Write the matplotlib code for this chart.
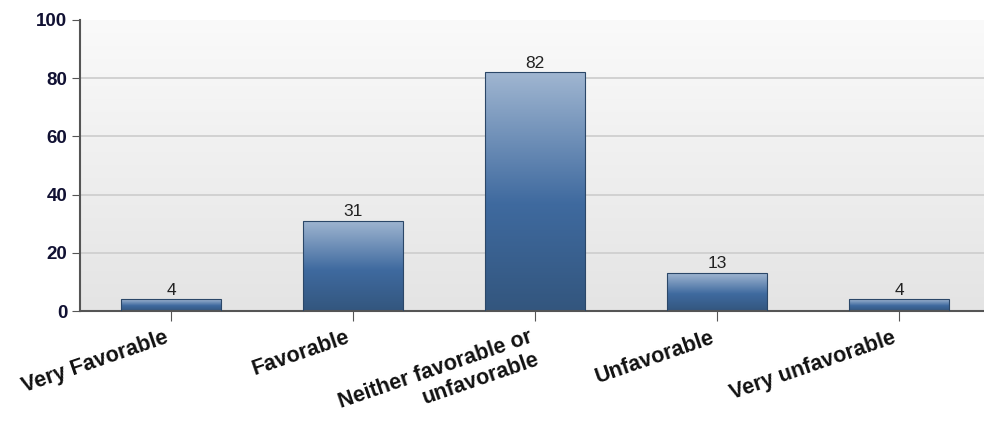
import numpy as np
import matplotlib
matplotlib.use("Agg")
import matplotlib.pyplot as plt
import matplotlib.transforms as mtransforms
from matplotlib.colors import LinearSegmentedColormap

categories = ["Very Favorable", "Favorable", "Neither favorable or\nunfavorable",
              "Unfavorable", "Very unfavorable"]
values = [4, 31, 82, 13, 4]
y_ticks = [0, 20, 40, 60, 80, 100]

font = ["Liberation Sans", "DejaVu Sans"]

fig = plt.figure(figsize=(9.84, 4.22), dpi=100)
ax = fig.add_axes([0.0813, 0.263, 0.9248, 0.6897])

n = len(categories)

# background gradient: near white at top to light gray at bottom
bg = np.linspace(0, 1, 256).reshape(-1, 1)
bg_cmap = LinearSegmentedColormap.from_list("bg", ["#e4e4e4", "#fafafa"])
ax.imshow(bg, cmap=bg_cmap, aspect="auto", origin="lower",
          extent=[-0.5, n - 0.5, 0, 100], zorder=0)

for y in y_ticks[1:-1]:
    ax.axhline(y, color="#cfcfcf", lw=1.3, zorder=1)

bar_cmap = LinearSegmentedColormap.from_list(
    "bar", [(0.0, "#33567e"), (0.45, "#3f6a9f"), (1.0, "#a0b6d1")])
grad = np.linspace(0, 1, 256).reshape(-1, 1)

x = np.arange(n)
bars = ax.bar(x, values, width=0.545, color="none", edgecolor="#2b4768",
              lw=0.8, zorder=3)
for b, v in zip(bars, values):
    x0, w = b.get_x(), b.get_width()
    im = ax.imshow(grad, cmap=bar_cmap, aspect="auto", origin="lower",
                   extent=[x0, x0 + w, 0, v], zorder=2)
    im.set_clip_path(b)
    ax.text(x0 + w / 2, v + 0.6, str(v), ha="center", va="bottom",
            fontsize=12.5, color="#222222", family=font)

ax.set_xlim(-0.5, n - 0.5)
ax.set_ylim(0, 100)

ax.set_yticks(y_ticks)
ax.set_yticklabels([str(t) for t in y_ticks], fontsize=13.5, fontweight="bold",
                   family=font, color="#111133")
ax.set_xticks(x)
ax.set_xticklabels([])

# category labels, rotated, sitting a little left of and below each tick
shift = mtransforms.ScaledTranslation(-0.07, -0.16, fig.dpi_scale_trans)
for xi, cat in zip(x, categories):
    ax.text(xi, 0, cat, transform=ax.get_xaxis_transform() + shift,
            rotation=19, ha="right", va="top", rotation_mode="anchor",
            multialignment="right", fontsize=15.5, fontweight="bold",
            family=font, linespacing=1.12, color="#111111", clip_on=False)

ax.tick_params(axis="x", length=7, color="#555555", pad=3)
ax.tick_params(axis="y", length=6, color="#555555", pad=3)

for s in ["top", "right"]:
    ax.spines[s].set_visible(False)
ax.spines["left"].set_color("#555555")
ax.spines["left"].set_linewidth(1.5)
ax.spines["bottom"].set_color("#555555")
ax.spines["bottom"].set_linewidth(1.5)

fig.savefig("out.png", dpi=100)
